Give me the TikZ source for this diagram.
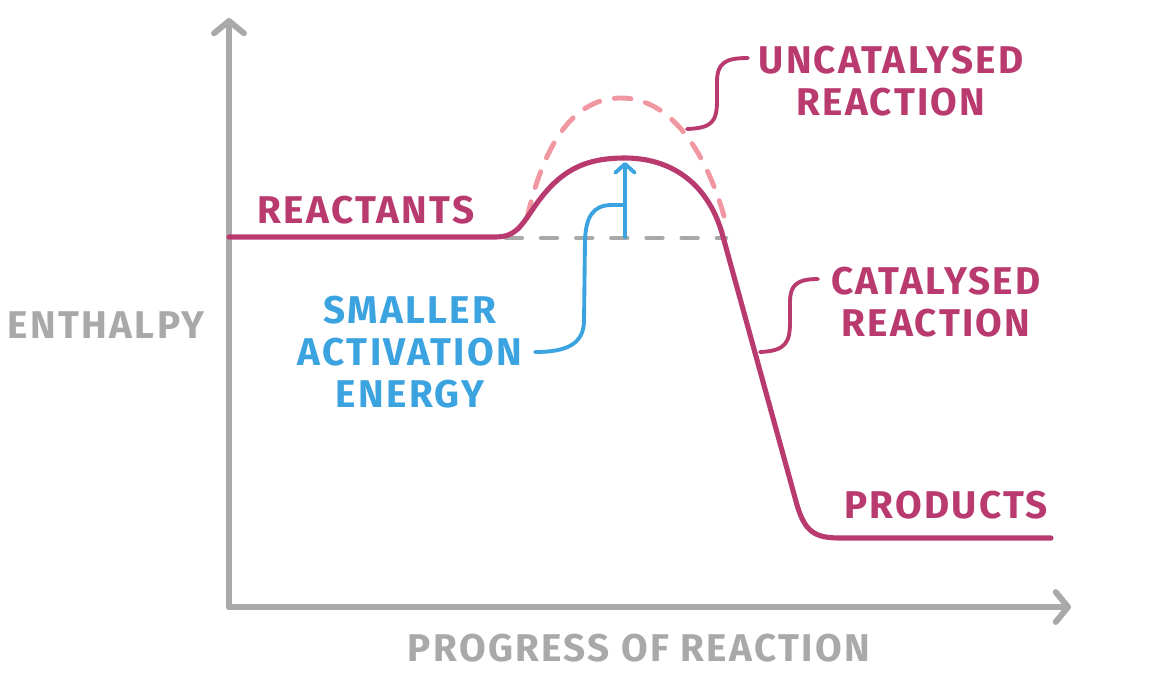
\documentclass[tikz,border=0pt]{standalone}
\usepackage{fontspec}
\setmainfont{Fira Sans}
\newfontfamily\lblfont[LetterSpace=6]{Fira Sans}
\usetikzlibrary{arrows.meta}
\definecolor{mag}{HTML}{B93A6E}
\definecolor{pinkd}{HTML}{F197A2}
\definecolor{bluec}{HTML}{3AA3E0}
\definecolor{grayc}{HTML}{A9A9A9}
\tikzset{
  lbl/.style={font=\lblfont\bfseries\fontsize{22}{24}\selectfont, align=center, inner sep=0pt},
  axisline/.style={draw=grayc, line width=3.4pt, line cap=round, line join=round,
    -{Straight Barb[length=7pt,width=17pt,line cap=round,line join=round]}},
  curveline/.style={draw=mag, line width=2.9pt, line cap=round, line join=round},
  leader/.style={line width=2.2pt, line cap=round, line join=round},
}
\begin{document}
\begin{tikzpicture}[x=0.02cm,y=-0.02cm]
\path[use as bounding box] (0,0) rectangle (1160,680);
% axes
\coordinate (O) at (229,607);
\coordinate (ytip) at (229,18);
\coordinate (xtip) at (1071,607);
\draw[axisline] (O) -- (ytip);
\draw[axisline] (O) -- (xtip);
% baseline dashed
\coordinate (b1) at (506,238);
\coordinate (b2) at (726,238);
\draw[draw=grayc, line width=2.6pt, line cap=round, dash pattern=on 9pt off 11pt] (b1) -- (b2);
% uncatalysed dashed
\coordinate (u1) at (527,218);
\coordinate (upk) at (621,98);
\coordinate (u2) at (724,216);
\draw[draw=pinkd, line width=2.8pt, line cap=round, dash pattern=on 9.5pt off 8.5pt]
  (u1) .. controls (545,140) and (575,98) .. (upk) .. controls (670,98) and (705,150) .. (u2);
% catalysed curve
\coordinate (r0) at (229,237);
\coordinate (pk) at (625,158);
\coordinate (p1) at (1051,538);
\draw[curveline] (r0) -- (495,237) .. controls (515,237) and (520,228) .. (535,206)
  .. controls (560,170) and (585,158) .. (pk)
  .. controls (670,158) and (707,182) .. (722,233) -- (797,505)
  .. controls (805,532) and (815,538) .. (840,538) -- (p1);
% activation energy arrow
\coordinate (a0) at (625,237);
\coordinate (a1) at (625,162);
\draw[bluec, leader, -{Straight Barb[length=5pt,width=11pt,line cap=round,line join=round]}] (a0) -- (a1);
% labels
\node[lbl, text=mag] (react) at (366,210) {REACTANTS};
\node[lbl, text=mag] (uncat) at (891,81) {UNCATALYSED\\REACTION};
\node[lbl, text=mag] (cat) at (936,302) {CATALYSED\\REACTION};
\node[lbl, text=mag] (prod) at (946,505) {PRODUCTS};
\node[lbl, text=bluec] (sae) at (410,352) {SMALLER\\ACTIVATION\\ENERGY};
\node[lbl, text=grayc] (enth) at (106,325) {ENTHALPY};
\node[lbl, text=grayc] (prog) at (639,648) {PROGRESS OF REACTION};
% leaders
\coordinate (ae) at (625,205);
\coordinate (se) at (535,352);
\draw[bluec, leader] (ae) -- (612,205) .. controls (592,205) and (586,218) .. (585,240)
  -- (584,322) .. controls (583,345) and (565,352) .. (se);
\coordinate (ue) at (687,129);
\draw[mag, leader] (ue) .. controls (712,128) and (717,122) .. (717,100) -- (717,82)
  .. controls (717,63) and (725,58) .. (748,58);
\coordinate (ce) at (760,352);
\draw[mag, leader] (ce) .. controls (786,351) and (790,342) .. (790,322) -- (790,302)
  .. controls (790,285) and (797,279) .. (818,279);
\end{tikzpicture}
\end{document}
